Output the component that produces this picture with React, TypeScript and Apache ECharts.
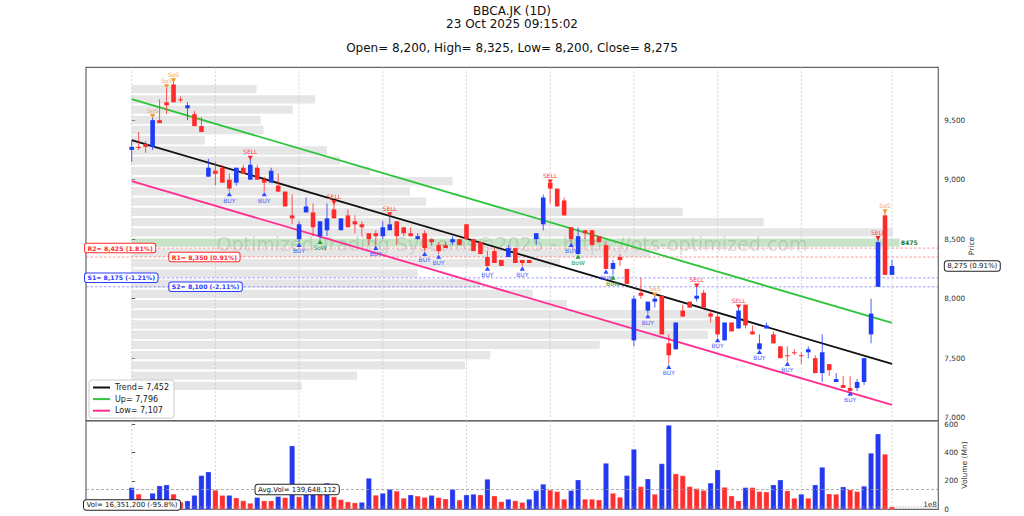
import React, { useEffect, useRef } from "react";
import * as echarts from "echarts";

// ---------------- DATA ----------------
const ticker = "BBCA.JK (1D)";
const timestamp = "23 Oct 2025 09:15:02";
const watermark = "Optimized Trading Systems\u00a92025 - https://ots-optimized.com";
const priceAxisName = "Price";
const volumeAxisName = "Volume (Mn)";

const opens = [
  9250, 9275, 9300, 9275, 9500, 9650, 9800, 9675, 9600, 9550,
  9450, 9025, 9075, 9100, 9000, 8975, 9100, 9000, 9100, 9000,
  8975, 8950, 8900, 8700, 8500, 8725, 8725, 8525, 8575, 8750,
  8575, 8700, 8650, 8625, 8550, 8550, 8525, 8575, 8650, 8600,
  8550, 8500, 8550, 8500, 8450, 8450, 8475, 8500, 8625, 8500,
  8475, 8350, 8400, 8325, 8350, 8425, 8325, 8325, 8500, 8625,
  8975, 8925, 8825, 8600, 8375, 8575, 8575, 8525, 8450, 8250,
  8350, 8250, 7650, 8050, 7900, 7975, 8025, 7625, 7575, 7900,
  7975, 8000, 8050, 7875, 7850, 7650, 7800, 7750, 7950, 7725,
  7575, 7750, 7700, 7600, 7525, 7550, 7525, 7550, 7500, 7375,
  7450, 7300, 7275, 7250, 7250, 7300, 7700, 8100, 8700, 8200,
];
const highs = [
  9325, 9400, 9325, 9525, 9675, 9775, 9825, 9700, 9650, 9575,
  9525, 9175, 9150, 9125, 9050, 9100, 9125, 9175, 9125, 9025,
  9100, 9050, 8900, 8875, 8650, 8850, 8800, 8650, 8800, 8800,
  8675, 8750, 8700, 8650, 8550, 8575, 8650, 8700, 8650, 8600,
  8600, 8550, 8575, 8500, 8475, 8475, 8525, 8500, 8625, 8500,
  8475, 8400, 8425, 8325, 8450, 8425, 8325, 8325, 8550, 8875,
  8975, 8925, 8850, 8600, 8600, 8575, 8575, 8525, 8475, 8325,
  8375, 8250, 8025, 8175, 7975, 8025, 8025, 7700, 7800, 7950,
  7975, 8100, 8075, 7900, 7875, 7800, 7800, 7925, 7950, 7775,
  7700, 7800, 7725, 7600, 7600, 7575, 7550, 7600, 7525, 7700,
  7450, 7375, 7350, 7350, 7325, 7500, 8000, 8500, 8725, 8325,
];
const lows = [
  9150, 9250, 9225, 9250, 9475, 9550, 9650, 9650, 9500, 9450,
  9400, 9025, 8950, 8975, 8900, 8950, 9050, 9000, 9000, 8900,
  8975, 8900, 8775, 8625, 8475, 8725, 8525, 8500, 8525, 8675,
  8575, 8600, 8550, 8525, 8450, 8450, 8500, 8575, 8450, 8525,
  8525, 8500, 8400, 8450, 8375, 8425, 8450, 8450, 8500, 8400,
  8375, 8275, 8300, 8275, 8350, 8300, 8275, 8300, 8450, 8575,
  8800, 8775, 8700, 8475, 8375, 8500, 8450, 8475, 8250, 8200,
  8275, 8125, 7600, 8000, 7875, 7925, 7700, 7450, 7575, 7850,
  7925, 7975, 7925, 7800, 7675, 7650, 7725, 7750, 7750, 7700,
  7575, 7750, 7625, 7500, 7475, 7525, 7450, 7500, 7375, 7300,
  7350, 7300, 7250, 7225, 7225, 7275, 7625, 8100, 8200, 8200,
];
const closes = [
  9275, 9275, 9275, 9500, 9475, 9625, 9650, 9675, 9625, 9450,
  9400, 9100, 9050, 8975, 8925, 9100, 9050, 9125, 9000, 8975,
  9075, 8900, 8775, 8675, 8625, 8775, 8600, 8650, 8675, 8675,
  8675, 8600, 8625, 8600, 8500, 8525, 8600, 8625, 8525, 8550,
  8525, 8525, 8425, 8475, 8400, 8425, 8500, 8450, 8500, 8400,
  8375, 8275, 8300, 8275, 8425, 8300, 8300, 8300, 8550, 8850,
  8925, 8775, 8700, 8500, 8525, 8550, 8450, 8475, 8250, 8300,
  8325, 8125, 8000, 8025, 7975, 8000, 7700, 7525, 7800, 7850,
  7925, 8025, 7925, 7850, 7700, 7800, 7725, 7900, 7775, 7700,
  7625, 7775, 7625, 7500, 7525, 7550, 7525, 7575, 7375, 7550,
  7400, 7325, 7250, 7225, 7300, 7500, 7875, 8475, 8200, 8275,
];
// volume in millions of shares
const volumesMn = [
  153, 107, 66, 113, 165, 172, 107, 50, 59, 98,
  238, 264, 134, 98, 98, 80, 60, 42, 84, 59,
  59, 90, 82, 448, 88, 150, 160, 140, 185, 88,
  68, 52, 45, 49, 219, 99, 113, 141, 128, 78,
  101, 93, 84, 98, 82, 73, 141, 65, 101, 106,
  101, 212, 94, 53, 71, 60, 48, 71, 132, 177,
  135, 125, 71, 132, 207, 71, 71, 66, 325, 113,
  85, 238, 424, 160, 214, 106, 322, 594, 250, 237,
  160, 146, 133, 185, 278, 155, 94, 59, 153, 153,
  125, 122, 172, 207, 130, 78, 106, 78, 172, 297,
  108, 106, 158, 137, 125, 163, 396, 532, 389, 16.3512,
];
// 1 = blue volume bar, 0 = red volume bar
const volumeUp = [
  1, 0, 0, 1, 1, 1, 0, 0, 1, 1,
  1, 1, 0, 0, 1, 0, 0, 0, 1, 0,
  0, 1, 0, 1, 0, 1, 1, 0, 1, 0,
  0, 0, 0, 1, 1, 0, 1, 1, 0, 0,
  1, 0, 0, 1, 0, 0, 1, 0, 1, 1,
  0, 1, 0, 0, 1, 0, 0, 1, 1, 1,
  0, 0, 0, 1, 1, 0, 0, 0, 1, 0,
  0, 1, 1, 0, 1, 0, 1, 1, 0, 0,
  0, 0, 0, 1, 1, 0, 0, 0, 1, 0,
  0, 0, 1, 1, 0, 0, 1, 0, 1, 1,
  0, 0, 1, 0, 0, 1, 1, 1, 0, 0,
];

const buyIdx = [14, 19, 24, 35, 42, 44, 51, 56, 63, 68, 74, 77, 84, 90, 94, 103];
const sellIdx = [17, 29, 37, 60, 81, 87, 107];
const sosIdx = [3, 5, 6, 75, 108];
const sowIdx = [27];
const bowIdx = [64, 69];

const gridIdx = [0, 12, 24, 36, 48, 60, 72, 84, 96, 109];

const trendStart = 9333, trendEnd = 7452;
const upStart = 9677, upEnd = 7796;
const lowStart = 8988, lowEnd = 7107;

const levelNames = ["R2", "R1", "S1", "S2"];
const levelPrices = [8425, 8350, 8175, 8100];
const levelPcts = ["1.81%", "0.91%", "-1.21%", "-2.11%"];

// volume profile, bottom bin to top bin
const profileVol = [
  24.4, 32.3, 47.8, 51.4, 67.1, 82.6, 83.6, 83.2, 62.4, 57.5,
  50.0, 41.0, 61.4, 74.3, 110.1, 109.1, 90.6, 79.0, 42.2, 39.9,
  46.0, 34.2, 29.9, 28.0, 10.5, 18.9, 18.5, 23.1, 26.3, 17.9,
];
const profileLow = 7216;
const profileHigh = 9796;
const pocLabel = "8475";

const avgVol = 139648112;
const lastVol = 16351200;
const lastVolPct = "-95.8%";
const lastPct = "0.91%";

const priceTicks = [7000, 7500, 8000, 8500, 9000, 9500];
const volTicks = [0, 200, 400, 600];

// ---------------- STYLE ----------------
const FONT = "DejaVu Sans";
const BLUE = "#1f3cf5";
const RED = "#ff2a2a";
const XMIN = -6.55, XMAX = 115.64;
const PMIN = 6975, PMAX = 9944;
const VMAX = 624;
const PROFILE_SPAN = 110.1;
const GL = 86, GR = 1024 - 938.3;
const fmt = (v: number) => Math.round(v).toLocaleString("en-US");

function buildOption() {
  const N = opens.length;
  const last = N - 1;
  const binSize = (profileHigh - profileLow) / profileVol.length;
  const profileMax = Math.max(...profileVol);

  const markers: number[][] = [
    ...buyIdx.map((i) => [i, 0]),
    ...sellIdx.map((i) => [i, 1]),
    ...sosIdx.map((i) => [i, 2]),
    ...sowIdx.map((i) => [i, 3]),
    ...bowIdx.map((i) => [i, 4]),
  ];
  const markerText = ["BUY", "SELL", "SoS", "SoW", "BoW"];
  const markerFill = ["#2f4bff", "#ff2020", "#f39a2e", "#2a9a3a", "#2a9a3a"];
  const markerTextColor = ["#4760ff", "#ff3a3a", "#f5a54a", "#2b9140", "#2b9140"];

  const vgrid = (params: any, api: any) => {
    const cs = params.coordSys;
    const x = api.coord([api.value(0), 0])[0];
    return {
      type: "line",
      shape: { x1: x, y1: cs.y, x2: x, y2: cs.y + cs.height },
      style: { stroke: "#c8c8c8", lineWidth: 0.8, lineDash: [2, 2] },
      silent: true,
    };
  };

  return {
    animation: false,
    backgroundColor: "#ffffff",
    textStyle: { fontFamily: FONT },
    grid: [
      { left: GL, right: GR, top: 67.3, height: 353.4, show: true, borderColor: "#666", borderWidth: 1.2, backgroundColor: "transparent" },
      { left: GL, right: GR, top: 421, height: 88.3, show: true, borderColor: "#666", borderWidth: 1.2, backgroundColor: "transparent" },
    ],
    xAxis: [
      { type: "value", gridIndex: 0, min: XMIN, max: XMAX, show: false },
      { type: "value", gridIndex: 1, min: XMIN, max: XMAX, show: false },
    ],
    yAxis: [
      {
        type: "value", gridIndex: 0, position: "right", min: PMIN, max: PMAX,
        axisLine: { show: false },
        axisTick: { show: true, length: 3.5, customValues: priceTicks, lineStyle: { color: "#555" } },
        axisLabel: { customValues: priceTicks, fontSize: 7.3, color: "#333", margin: 6, fontFamily: FONT, formatter: (v: number) => fmt(v) },
        splitLine: { show: false },
      },
      {
        type: "value", gridIndex: 1, position: "right", min: 0, max: VMAX,
        axisLine: { show: false },
        axisTick: { show: true, length: 3.5, customValues: volTicks, lineStyle: { color: "#555" } },
        axisLabel: { customValues: volTicks, fontSize: 7.3, color: "#333", margin: 6, fontFamily: FONT, formatter: (v: number) => fmt(v) },
        splitLine: { show: false },
      },
    ],
    legend: {
      orient: "vertical", left: 89, top: 380, itemWidth: 17, itemHeight: 2, icon: "rect",
      itemGap: 3.6, padding: [3.5, 5, 3.5, 4],
      textStyle: { fontSize: 8, color: "#222", fontFamily: FONT },
      backgroundColor: "rgba(255,255,255,0.85)", borderColor: "#cccccc", borderWidth: 1, borderRadius: 3,
      data: [`Trend= ${fmt(trendEnd)}`, `Up= ${fmt(upEnd)}`, `Low= ${fmt(lowEnd)}`],
    },
    graphic: [
      { type: "text", x: 512, y: 11, style: { text: ticker, fill: "#111", font: `12px "${FONT}"`, align: "center", verticalAlign: "middle" } },
      { type: "text", x: 512, y: 24, style: { text: timestamp, fill: "#111", font: `12px "${FONT}"`, align: "center", verticalAlign: "middle" } },
      {
        type: "text", x: 512, y: 48,
        style: {
          text: `Open= ${fmt(opens[last])}, High= ${fmt(highs[last])}, Low= ${fmt(lows[last])}, Close= ${fmt(closes[last])}`,
          fill: "#111", font: `12px "${FONT}"`, align: "center", verticalAlign: "middle",
        },
      },
      { type: "text", x: 512, y: 244, z: 1, style: { text: watermark, fill: "rgba(130,130,130,0.3)", font: `19px "${FONT}"`, align: "center", verticalAlign: "middle" } },
      { type: "text", x: 937, y: 504.5, style: { text: "1e8", fill: "#333", font: `7.3px "${FONT}"`, align: "right", verticalAlign: "middle" } },
      { type: "text", x: 971, y: 246, rotation: Math.PI / 2, style: { text: priceAxisName, fill: "#333", font: `7.5px "${FONT}"`, align: "center", verticalAlign: "middle" } },
      { type: "text", x: 964, y: 465, rotation: Math.PI / 2, style: { text: volumeAxisName, fill: "#333", font: `7.5px "${FONT}"`, align: "center", verticalAlign: "middle" } },
    ],
    series: [
      // volume profile
      {
        type: "custom", xAxisIndex: 0, yAxisIndex: 0, z: 1, silent: true,
        encode: { x: 0, y: 1 },
        data: profileVol.map((v, k) => [k, v]),
        renderItem: (params: any, api: any) => {
          const k = api.value(0), v = api.value(1);
          const lo = profileLow + k * binSize, hi = lo + binSize;
          const len = (v / profileMax) * PROFILE_SPAN;
          const p0 = api.coord([0, hi]);
          const p1 = api.coord([len, lo + binSize * 0.19]);
          const isPoc = v === profileMax;
          const children: any[] = [
            {
              type: "rect",
              shape: { x: p0[0], y: p0[1], width: p1[0] - p0[0], height: p1[1] - p0[1] },
              style: { fill: isPoc ? "rgba(110,185,110,0.38)" : "rgba(200,200,200,0.45)" },
            },
          ];
          if (isPoc) {
            children.push({
              type: "text",
              style: { text: pocLabel, x: p1[0] + 1, y: (p0[1] + p1[1]) / 2, fill: "#1f7a1f", font: `bold 6.2px "${FONT}"`, align: "left", verticalAlign: "middle" },
            });
          }
          return { type: "group", children };
        },
      },
      // vertical grid, price panel
      { type: "custom", xAxisIndex: 0, yAxisIndex: 0, z: 2, silent: true, encode: { x: 0 }, data: gridIdx.map((g) => [g]), renderItem: vgrid },
      // support/resistance levels
      {
        type: "custom", xAxisIndex: 0, yAxisIndex: 0, z: 3, silent: true, clip: false,
        encode: { x: 0, y: 1 },
        data: levelPrices.map((p, k) => [k, p]),
        renderItem: (params: any, api: any) => {
          const cs = params.coordSys;
          const k = api.value(0), p = api.value(1);
          const y = api.coord([0, p])[1];
          const isR = levelNames[k].startsWith("R");
          const lineColor = isR ? "rgba(255,80,80,0.75)" : "rgba(90,90,255,0.75)";
          const txtColor = isR ? "#ff2a2a" : "#2a3cff";
          const lx = k % 2 === 0 ? cs.x - 1 : cs.x + 83.3;
          return {
            type: "group",
            children: [
              { type: "line", shape: { x1: cs.x, y1: y, x2: cs.x + cs.width, y2: y }, style: { stroke: lineColor, lineWidth: 0.8, lineDash: [2.5, 2] } },
              {
                type: "text", z2: 10,
                style: {
                  text: `${levelNames[k]}= ${fmt(p)} (${levelPcts[k]})`, x: lx, y, fill: txtColor,
                  font: `bold 6.2px "${FONT}"`, align: "left", verticalAlign: "middle",
                  backgroundColor: "#ffffff", borderColor: txtColor, borderWidth: 1, borderRadius: 2, padding: [1.5, 2.5, 1, 2.5],
                },
              },
            ],
          };
        },
      },
      // channel lines
      {
        name: `Trend= ${fmt(trendEnd)}`, type: "line", xAxisIndex: 0, yAxisIndex: 0, z: 5, symbol: "none", silent: true,
        color: "#111111", lineStyle: { width: 1.8, color: "#111111" },
        data: [[0, trendStart], [last, trendEnd]],
      },
      {
        name: `Up= ${fmt(upEnd)}`, type: "line", xAxisIndex: 0, yAxisIndex: 0, z: 5, symbol: "none", silent: true,
        color: "#2ec43c", lineStyle: { width: 1.8, color: "#2ec43c" },
        data: [[0, upStart], [last, upEnd]],
      },
      {
        name: `Low= ${fmt(lowEnd)}`, type: "line", xAxisIndex: 0, yAxisIndex: 0, z: 5, symbol: "none", silent: true,
        color: "#ff2d8f", lineStyle: { width: 1.8, color: "#ff2d8f" },
        data: [[0, lowStart], [last, lowEnd]],
      },
      // candles
      {
        type: "custom", xAxisIndex: 0, yAxisIndex: 0, z: 6, silent: true,
        encode: { x: 0, y: [1, 2, 3, 4] },
        data: opens.map((o, i) => [i, o, highs[i], lows[i], closes[i]]),
        renderItem: (params: any, api: any) => {
          const i = api.value(0), o = api.value(1), h = api.value(2), l = api.value(3), c = api.value(4);
          const color = c > o ? BLUE : RED;
          const pO = api.coord([i, o]), pC = api.coord([i, c]), pH = api.coord([i, h]), pL = api.coord([i, l]);
          const x = pO[0];
          const top = Math.min(pO[1], pC[1]);
          const hgt = Math.max(1, Math.abs(pO[1] - pC[1]));
          return {
            type: "group",
            children: [
              { type: "line", shape: { x1: x, y1: pH[1], x2: x, y2: pL[1] }, style: { stroke: color, lineWidth: 1, opacity: 0.8 } },
              { type: "rect", shape: { x: x - 2.3, y: top, width: 4.6, height: hgt }, style: { fill: color } },
            ],
          };
        },
      },
      // signal markers
      {
        type: "custom", xAxisIndex: 0, yAxisIndex: 0, z: 7, silent: true, clip: false,
        encode: { x: 0 },
        data: markers,
        renderItem: (params: any, api: any) => {
          const i = api.value(0), t = api.value(1);
          const above = t === 1 || t === 2;
          const p = api.coord([i, above ? highs[i] : lows[i]]);
          const x = p[0];
          let tri: number[][], ty: number;
          if (above) {
            const cy = p[1] - 1;
            tri = [[x - 2.6, cy - 2.2], [x + 2.6, cy - 2.2], [x, cy + 2.2]];
            ty = p[1] - 7;
          } else {
            const cy = p[1] + 2.6;
            tri = [[x - 2.6, cy + 2.2], [x + 2.6, cy + 2.2], [x, cy - 2.2]];
            ty = p[1] + 8.6;
          }
          return {
            type: "group",
            children: [
              { type: "polygon", shape: { points: tri }, style: { fill: markerFill[t] } },
              { type: "text", style: { text: markerText[t], x, y: ty, fill: markerTextColor[t], font: `6px "${FONT}"`, align: "center", verticalAlign: "middle" } },
            ],
          };
        },
      },
      // last price tag on the right axis
      {
        type: "custom", xAxisIndex: 0, yAxisIndex: 0, z: 8, silent: true, clip: false,
        encode: { x: 0, y: 1 },
        data: [[last, closes[last]]],
        renderItem: (params: any, api: any) => {
          const cs = params.coordSys;
          const y = api.coord([api.value(0), api.value(1)])[1];
          return {
            type: "text",
            style: {
              text: `${fmt(api.value(1))} (${lastPct})`, x: cs.x + cs.width + 6.5, y, fill: "#111",
              font: `7px "${FONT}"`, align: "left", verticalAlign: "middle",
              backgroundColor: "#ffffff", borderColor: "#222", borderWidth: 1, borderRadius: 2.5, padding: [1.5, 2.5, 1, 2.5],
            },
          };
        },
      },
      // vertical grid, volume panel
      { type: "custom", xAxisIndex: 1, yAxisIndex: 1, z: 2, silent: true, encode: { x: 0 }, data: gridIdx.map((g) => [g]), renderItem: vgrid },
      // volume bars
      {
        type: "custom", xAxisIndex: 1, yAxisIndex: 1, z: 5, silent: true,
        encode: { x: 0, y: 1 },
        data: volumesMn.map((v, i) => [i, v, volumeUp[i]]),
        renderItem: (params: any, api: any) => {
          const i = api.value(0), v = api.value(1), up = api.value(2);
          const p0 = api.coord([i, 0]), p1 = api.coord([i, v]);
          return {
            type: "rect",
            shape: { x: p0[0] - 2.6, y: p1[1], width: 5.2, height: p0[1] - p1[1] },
            style: { fill: up ? "#2438f0" : "#ff2e2e", stroke: "rgba(255,255,255,0.5)", lineWidth: 0.5 },
          };
        },
      },
      // volume annotations
      {
        type: "custom", xAxisIndex: 1, yAxisIndex: 1, z: 8, silent: true, clip: false,
        encode: { x: 0, y: 1 },
        data: [[0, avgVol / 1e6, lastVol / 1e6]],
        renderItem: (params: any, api: any) => {
          const cs = params.coordSys;
          const ya = api.coord([0, api.value(1)])[1];
          const yl = api.coord([0, api.value(2)])[1];
          return {
            type: "group",
            children: [
              { type: "line", shape: { x1: cs.x, y1: ya, x2: cs.x + cs.width, y2: ya }, style: { stroke: "#999", lineWidth: 0.8, lineDash: [3, 2] } },
              { type: "line", shape: { x1: cs.x, y1: yl, x2: cs.x + cs.width, y2: yl }, style: { stroke: "#aaa", lineWidth: 0.8, lineDash: [1.5, 1.5] } },
              {
                type: "text", z2: 10,
                style: {
                  text: `Avg.Vol= ${fmt(avgVol)}`, x: cs.x + 169.5, y: ya, fill: "#111",
                  font: `7px "${FONT}"`, align: "left", verticalAlign: "middle",
                  backgroundColor: "#ffffff", borderColor: "#222", borderWidth: 1, borderRadius: 2.5, padding: [1.5, 2.5, 1, 2.5],
                },
              },
              {
                type: "text", z2: 10,
                style: {
                  text: `Vol= ${fmt(lastVol)} (${lastVolPct})`, x: cs.x - 2, y: 505, fill: "#111",
                  font: `7px "${FONT}"`, align: "left", verticalAlign: "middle",
                  backgroundColor: "#ffffff", borderColor: "#222", borderWidth: 1, borderRadius: 2.5, padding: [1.5, 2.5, 1, 2.5],
                },
              },
            ],
          };
        },
      },
    ],
  };
}

export default function App() {
  const ref = useRef<HTMLDivElement>(null);
  useEffect(() => {
    document.body.style.margin = "0";
    const chart = echarts.init(ref.current as HTMLDivElement, null, { renderer: "svg" });
    chart.setOption(buildOption() as any);
    return () => chart.dispose();
  }, []);
  return <div ref={ref} style={{ width: 1024, height: 516 }} />;
}
